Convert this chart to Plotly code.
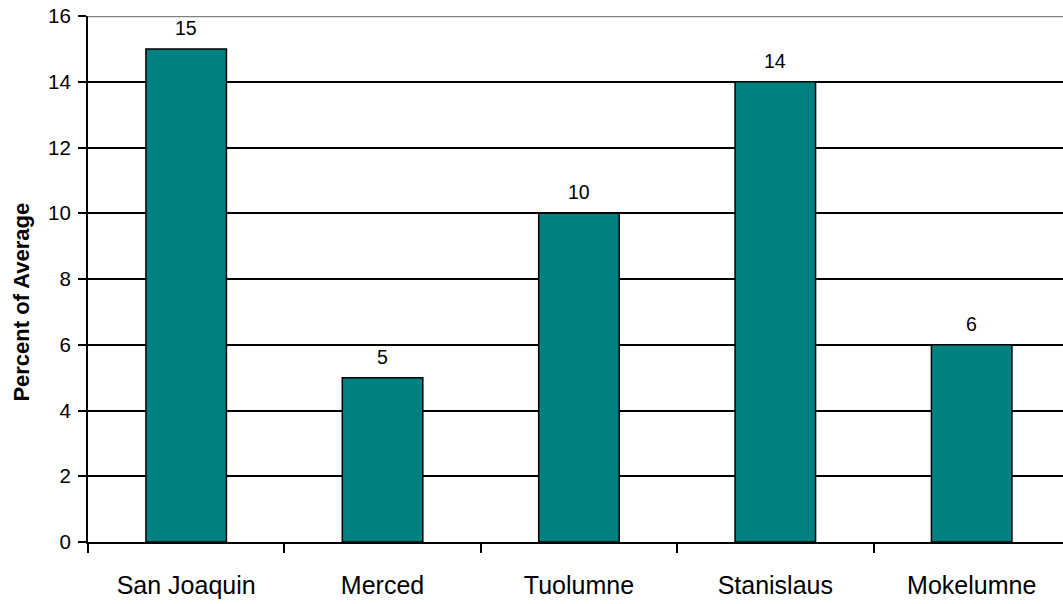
import plotly.graph_objects as go

# Percent of average by river basin
basins = ["San Joaquin", "Merced", "Tuolumne", "Stanislaus", "Mokelumne"]
percent_of_average = [15, 5, 10, 14, 6]
y_ticks = [0, 2, 4, 6, 8, 10, 12, 14, 16]
y_title = "Percent of Average"

FONT = "Arial, Liberation Sans, sans-serif"
TEAL = "#008080"

fig = go.Figure()
fig.add_trace(go.Bar(
    x=basins,
    y=percent_of_average,
    width=0.41,
    marker=dict(color=TEAL, line=dict(color="black", width=1.5)),
    showlegend=False,
    hoverinfo="x+y",
))

# value labels sitting above each bar
for name, val in zip(basins, percent_of_average):
    fig.add_annotation(
        x=name, y=val, text=str(val), showarrow=False,
        yanchor="bottom", yshift=8,
        font=dict(family=FONT, size=19.5, color="black"),
    )

# vertical axis title, set a little below the middle of the plot
fig.add_annotation(
    xref="paper", yref="paper", x=-0.0677, y=0.457,
    text=f"<b>{y_title}</b>", textangle=-90, showarrow=False,
    xanchor="center", yanchor="middle",
    font=dict(family=FONT, size=22, color="black"),
)

# grey frame line along the top of the plot area
fig.add_shape(type="line", xref="paper", yref="y", x0=0, x1=1, y0=16, y1=16,
              line=dict(color="#808080", width=2.5), layer="above")

fig.update_layout(
    width=1063, height=604,
    margin=dict(l=88, r=0, t=16, b=62, pad=0),
    paper_bgcolor="white", plot_bgcolor="white",
    font=dict(family=FONT, size=18, color="black"),
    bargap=0.59,
    xaxis=dict(
        type="category",
        range=[-0.5, 4.465],
        tickson="boundaries",
        ticks="outside", ticklen=9, tickwidth=1.5, tickcolor="black",
        ticklabelstandoff=20,
        showline=True, linecolor="black", linewidth=2,
        showgrid=False, zeroline=False,
        tickfont=dict(family=FONT, size=25, color="black"),
    ),
    yaxis=dict(
        range=[0, 16],
        tickvals=y_ticks,
        ticks="outside", ticklen=8, tickwidth=1.5, tickcolor="black",
        ticklabelstandoff=3,
        showline=True, linecolor="black", linewidth=2,
        showgrid=True, gridcolor="black", gridwidth=1.5,
        zeroline=False,
        tickfont=dict(family=FONT, size=20.5, color="black"),
    ),
)

fig.write_html("out.html")
